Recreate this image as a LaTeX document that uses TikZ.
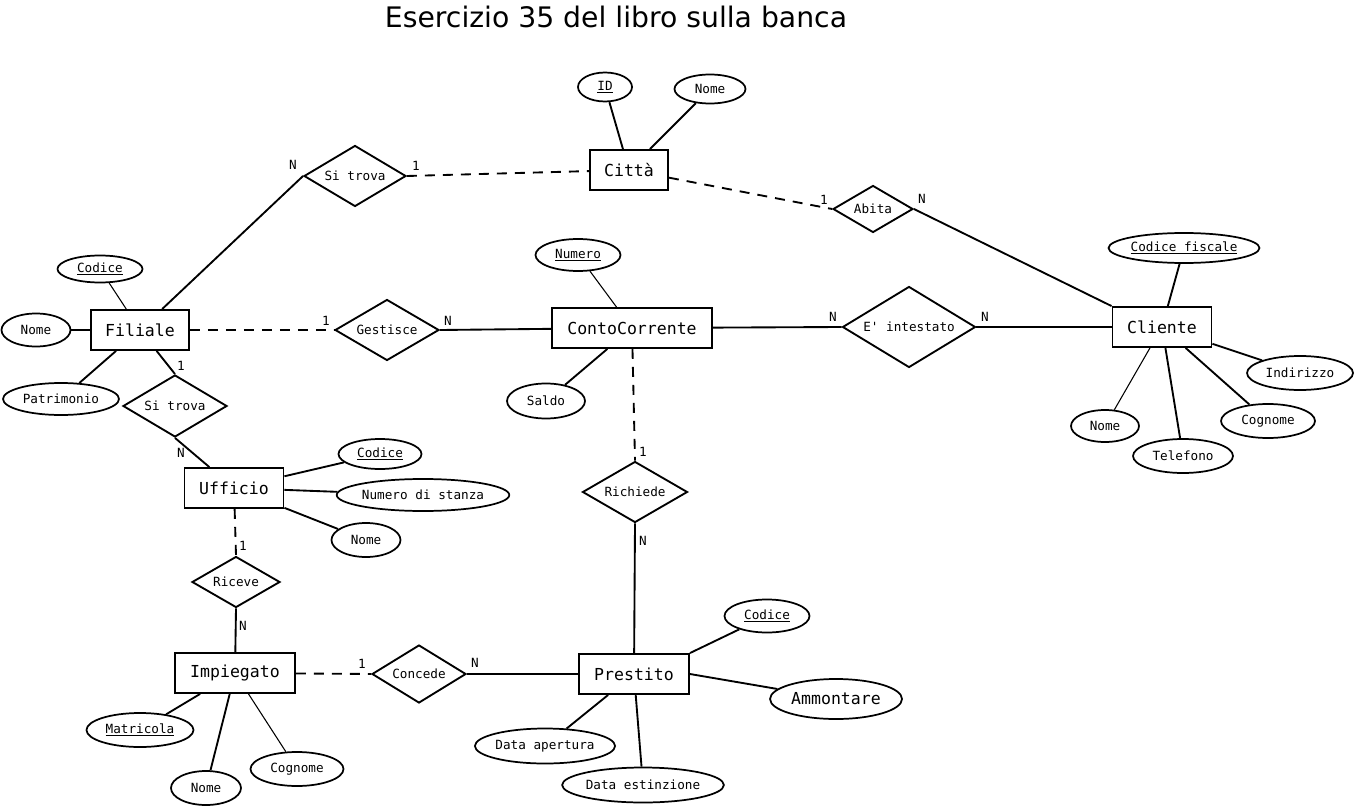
\documentclass[tikz,border=0pt]{standalone}
\usepackage{fontspec}
\setmainfont{DejaVu Sans}
\newfontfamily\monof{DejaVu Sans Mono}[Ligatures=TeXOff]
\usetikzlibrary{shapes.geometric,calc}
\begin{document}
\begin{tikzpicture}[x=0.75pt,y=-0.75pt,
  sz/.style 2 args={minimum width=#1*0.75pt, minimum height=#2*0.75pt},
  ent/.style={draw, rectangle, line width=1.4pt, inner sep=0pt, font=\monof\fontsize{12.4}{14}\selectfont},
  attr/.style={draw, ellipse, line width=1.3pt, inner sep=0pt, font=\monof\fontsize{9.5}{11}\selectfont},
  rel/.style={draw, diamond, line width=1.4pt, inner sep=0pt, font=\monof\fontsize{9.5}{11}\selectfont},
  card/.style={inner sep=0pt, font=\monof\fontsize{9.5}{11}\selectfont},
  link/.style={line width=1.4pt},
  thin link/.style={line width=0.8pt},
  dlink/.style={line width=1.4pt, dash pattern=on 7.5pt off 6pt}
]
\useasboundingbox[fill=white] (0,0) rectangle (1358,809);

\node[font=\fontsize{21.2}{25}\selectfont] (title) at (616,17) {Esercizio 35 del libro sulla banca};

% entities
\node[ent, sz={78}{40}] (cit) at (629,170) {Città};
\node[ent, sz={98}{40}] (fil) at (140,330) {Filiale};
\node[ent, sz={160}{40}] (cc) at (632,328) {ContoCorrente};
\node[ent, sz={99}{40}] (cli) at (1162,327) {Cliente};
\node[ent, sz={99}{40}] (uff) at (234,488) {Ufficio};
\node[ent, sz={120}{40}] (imp) at (235,673) {Impiegato};
\node[ent, sz={110}{40}] (pre) at (634,674) {Prestito};

% relationships
\node[rel, sz={102}{61}, aspect=1.67] (st1) at (355,176) {Si trova};
\node[rel, sz={80}{47}, aspect=1.70] (ab) at (873,209) {Abita};
\node[rel, sz={104}{61}, aspect=1.70] (ges) at (387,330) {Gestisce};
\node[rel, sz={133}{81}, aspect=1.64] (int) at (909,327) {E' intestato};
\node[rel, sz={104}{62}, aspect=1.68] (st2) at (175,406) {Si trova};
\node[rel, sz={88}{51}, aspect=1.73] (ric) at (236,582) {Riceve};
\node[rel, sz={105}{61}, aspect=1.72] (rich) at (635,492) {Richiede};
\node[rel, sz={94}{58}, aspect=1.62] (con) at (419,674) {Concede};

% attributes
\node[attr, sz={54}{29}] (id) at (605,87) {\underline{ID}};
\node[attr, sz={71}{29}] (ncit) at (710,89) {Nome};
\node[attr, sz={85}{27}] (cfil) at (100,269) {\underline{Codice}};
\node[attr, sz={69}{33}] (nfil) at (36,330) {Nome};
\node[attr, sz={116}{32}] (pat) at (61,399) {Patrimonio};
\node[attr, sz={85}{32}] (num) at (578,255) {\underline{Numero}};
\node[attr, sz={78}{35}] (sal) at (546,401) {Saldo};
\node[attr, sz={145}{30}] (cf) at (1184,248) {\underline{Codice fiscale}};
\node[attr, sz={106}{34}] (ind) at (1300,373) {Indirizzo};
\node[attr, sz={94}{34}] (cog) at (1268,421) {Cognome};
\node[attr, sz={68}{32}] (ncli) at (1105,426) {Nome};
\node[attr, sz={100}{34}] (tel) at (1183,456) {Telefono};
\node[attr, sz={83}{30}] (cuff) at (380,454) {\underline{Codice}};
\node[attr, sz={160}{32}] (nst) at (423,495) {Numero di stanza};
\node[attr, sz={69}{34}] (nuff) at (366,540) {Nome};
\node[attr, sz={107}{34}] (mat) at (140,730) {\underline{Matricola}};
\node[attr, sz={70}{34}] (nimp) at (206,788) {Nome};
\node[attr, sz={93}{34}] (cimp) at (297,769) {Cognome};
\node[attr, sz={85}{33}] (cpre) at (767,616) {\underline{Codice}};
\node[attr, sz={132}{40}, font=\monof\fontsize{12.4}{14}\selectfont] (amm) at (836,699) {Ammontare};
\node[attr, sz={138}{35}] (dap) at (545,746) {Data apertura};
\node[attr, sz={154}{35}] (des) at (643,785) {Data estinzione};

% relationship connectors
\draw[link] (fil) -- (st1.west);
\draw[dlink] (st1.east) -- (cit);
\draw[dlink] (cit) -- (ab.west);
\draw[link] (ab.east) -- (cli.north west);
\draw[dlink] (fil) -- (ges.west);
\draw[link] (ges.east) -- (cc);
\draw[link] (cc) -- (int.west);
\draw[link] (int.east) -- (cli);
\draw[link] (fil) -- (st2.north);
\draw[link] (st2.south) -- (uff);
\draw[dlink] (uff) -- (ric.north);
\draw[link] (ric.south) -- (imp);
\draw[dlink] (imp) -- (con.west);
\draw[link] (con.east) -- (pre);
\draw[dlink] (cc) -- (rich.north);
\draw[link] (rich.south) -- (pre);

% attribute connectors
\draw[link] (id) -- (cit);
\draw[link] (ncit) -- (cit);
\draw[thin link] (cfil) -- (fil);
\draw[link] (nfil) -- (fil);
\draw[link] (pat) -- (fil);
\draw[thin link] (num) -- (cc);
\draw[link] (sal) -- (cc);
\draw[link] (cf) -- (cli);
\draw[link] (ind) -- (cli);
\draw[link] (cog) -- (cli);
\draw[thin link] (ncli) -- (cli);
\draw[link] (tel) -- (cli);
\draw[link] (cuff) -- (uff);
\draw[link] (nst) -- (uff);
\draw[link] (nuff) -- (uff);
\draw[link] (mat) -- (imp);
\draw[link] (nimp) -- (imp);
\draw[thin link] (cimp) -- (imp);
\draw[link] (cpre) -- (pre.north east);
\draw[link] (amm) -- (pre.east);
\draw[link] (dap) -- (pre);
\draw[link] (des) -- (pre);

% cardinalities
\node[card] (k1) at (293,165) {N};
\node[card] (k2) at (416,166) {1};
\node[card] (k3) at (824,200) {1};
\node[card] (k4) at (922,199) {N};
\node[card] (k5) at (326,321) {1};
\node[card] (k6) at (448,321) {N};
\node[card] (k7) at (833,317) {N};
\node[card] (k8) at (985,317) {N};
\node[card] (k9) at (181,366) {1};
\node[card] (k10) at (181,453) {N};
\node[card] (k11) at (243,546) {1};
\node[card] (k12) at (243,626) {N};
\node[card] (k13) at (643,452) {1};
\node[card] (k14) at (643,541) {N};
\node[card] (k15) at (362,664) {1};
\node[card] (k16) at (475,663) {N};
\end{tikzpicture}
\end{document}
